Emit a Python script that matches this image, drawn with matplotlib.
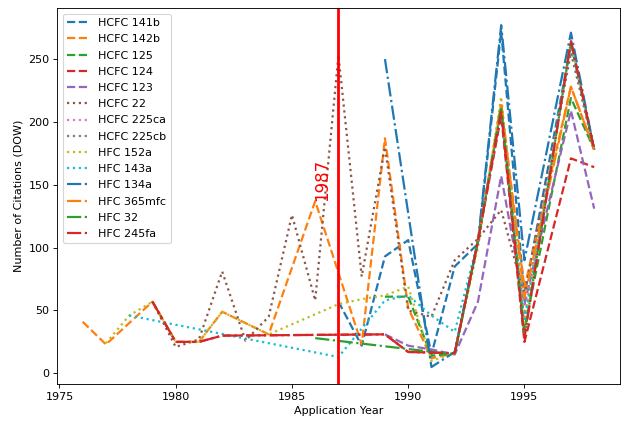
import matplotlib
matplotlib.use("Agg")
import matplotlib.pyplot as plt

# Citation counts per application year for each compound
hcfc141b_years = [1987, 1988, 1989, 1990, 1991, 1992, 1993, 1994, 1995, 1997, 1998]
hcfc141b_vals = [57, 22, 93, 106, 15, 85, 103, 272, 62, 262, 178]

hcfc142b_years = [1976, 1977, 1978, 1979, 1980, 1981, 1982, 1984, 1986, 1988, 1989,
                  1990, 1991, 1992, 1993, 1994, 1995, 1997, 1998]
hcfc142b_vals = [41, 23, 40, 57, 25, 25, 49, 31, 137, 23, 187, 52, 12, 16, 105, 212, 68, 228, 178]

hcfc125_years = [1989, 1990, 1991, 1992, 1993, 1994, 1995, 1997, 1998]
hcfc125_vals = [61, 61, 14, 16, 105, 212, 35, 219, 178]

hcfc124_years = [1979, 1980, 1981, 1982, 1989, 1990, 1992, 1993, 1994, 1995, 1997, 1998]
hcfc124_vals = [57, 25, 25, 30, 31, 17, 16, 105, 205, 25, 171, 164]

hcfc123_years = [1989, 1990, 1991, 1992, 1993, 1994, 1995, 1997, 1998]
hcfc123_vals = [31, 22, 19, 15, 57, 157, 55, 209, 131]

hcfc22_years = [1979, 1980, 1981, 1982, 1983, 1984, 1985, 1986, 1987, 1988, 1989,
                1990, 1991, 1992, 1993, 1994, 1995, 1997, 1998]
hcfc22_vals = [57, 21, 27, 81, 26, 45, 126, 58, 253, 77, 180, 50, 45, 90, 107, 130, 62, 255, 178]

hcfc225ca_years = [1993, 1994, 1995, 1997, 1998]
hcfc225ca_vals = [105, 210, 45, 262, 178]

hcfc225cb_years = [1993, 1994, 1995, 1997, 1998]
hcfc225cb_vals = [105, 212, 42, 260, 178]

hfc152a_years = [1977, 1978, 1979, 1980, 1981, 1982, 1984, 1987, 1988, 1989, 1990,
                 1991, 1992, 1993, 1994, 1995, 1997, 1998]
hfc152a_vals = [24, 46, 57, 25, 25, 49, 31, 55, 59, 62, 69, 10, 16, 100, 220, 40, 264, 178]

hfc143a_years = [1978, 1987, 1989, 1990, 1991, 1992, 1993, 1994, 1995, 1997, 1998]
hfc143a_vals = [46, 13, 58, 62, 46, 33, 105, 210, 41, 262, 178]

hfc134a_years = [1989, 1991, 1992, 1993, 1994, 1995, 1997, 1998]
hfc134a_vals = [250, 5, 17, 105, 277, 90, 271, 178]

hfc365mfc_years = [1993, 1994, 1995, 1997, 1998]
hfc365mfc_vals = [105, 215, 60, 228, 178]

hfc32_years = [1986, 1992, 1993, 1994, 1995, 1997, 1998]
hfc32_vals = [28, 15, 105, 212, 30, 264, 178]

hfc245fa_years = [1979, 1980, 1981, 1982, 1989, 1990, 1992, 1993, 1994, 1995, 1997, 1998]
hfc245fa_vals = [57, 25, 25, 30, 31, 17, 16, 105, 208, 28, 265, 178]

labels = ["HCFC 141b", "HCFC 142b", "HCFC 125", "HCFC 124", "HCFC 123",
          "HCFC 22", "HCFC 225ca", "HCFC 225cb", "HFC 152a", "HFC 143a",
          "HFC 134a", "HFC 365mfc", "HFC 32", "HFC 245fa"]

series = [
    (hcfc141b_years, hcfc141b_vals),
    (hcfc142b_years, hcfc142b_vals),
    (hcfc125_years, hcfc125_vals),
    (hcfc124_years, hcfc124_vals),
    (hcfc123_years, hcfc123_vals),
    (hcfc22_years, hcfc22_vals),
    (hcfc225ca_years, hcfc225ca_vals),
    (hcfc225cb_years, hcfc225cb_vals),
    (hfc152a_years, hfc152a_vals),
    (hfc143a_years, hfc143a_vals),
    (hfc134a_years, hfc134a_vals),
    (hfc365mfc_years, hfc365mfc_vals),
    (hfc32_years, hfc32_vals),
    (hfc245fa_years, hfc245fa_vals),
]

styles = ["--"] * 5 + [":"] * 5 + ["-."] * 4
colors = [f"C{i % 10}" for i in range(len(labels))]

marker_year = 1987

fig = plt.figure(figsize=(621 / 80, 424 / 80), dpi=80)
ax = fig.add_axes([0.092, 0.094, 0.906, 0.887])

for (yrs, vals), lab, ls, col in zip(series, labels, styles, colors):
    ax.plot(yrs, vals, linestyle=ls, color=col, label=lab, linewidth=2)

ax.axvline(marker_year, color="red", linewidth=2.5)
ax.text(marker_year - 0.72, 137, str(marker_year), rotation=90, color="red",
        fontsize=15, ha="center", va="bottom")

ax.set_xlabel("Application Year")
ax.set_ylabel("Number of Citations (DOW)")
ax.legend(loc="upper left", labelspacing=0.56)

fig.savefig("out.png", dpi=80)
